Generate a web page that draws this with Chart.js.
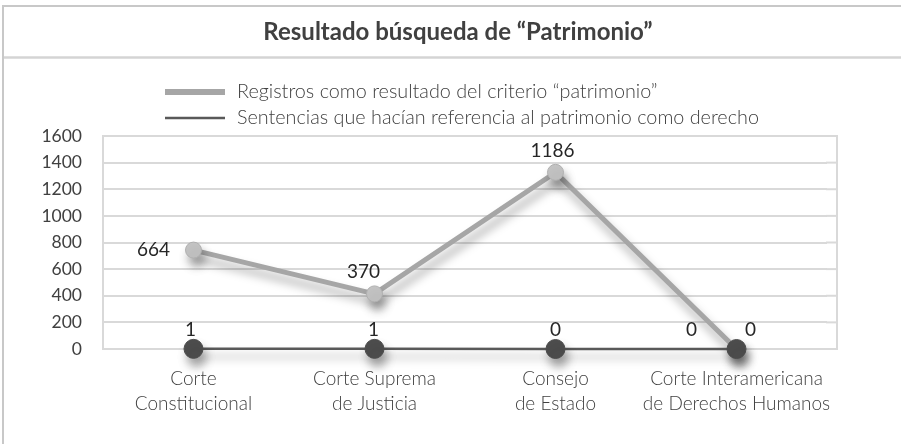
<!DOCTYPE html>
<html>
<head>
<meta charset="utf-8">
<script src="https://cdn.jsdelivr.net/npm/chart.js@4/dist/chart.umd.min.js"></script>
<style>
body{margin:0;background:#fff;}
#wrap{width:901px;height:444px;}
</style>
</head>
<body>
<div id="wrap"><canvas id="chart" width="901" height="444"></canvas></div>
<script>

/* ================= DATA ================= */

let titleText = "Resultado búsqueda de “Patrimonio”";
let categories = [
["Corte","Constitucional"],
["Corte Suprema","de Justicia"],
["Consejo","de Estado"],
["Corte Interamericana","de Derechos Humanos"]
];
let seriesNames = [
"Registros como resultado del criterio “patrimonio”",
"Sentencias que hacían referencia al patrimonio como derecho"
];
let registros = [664,370,1186,0];
let sentencias = [1,1,0,0];
let yTicks = [0,200,400,600,800,1000,1200,1400,1600];

/* label offsets from each point (dx, dy) */
let registrosLabelPos = [[-40,0],[-11,-22],[-3,-21],[-45,-19]];
let sentenciasLabelPos = [[-3,-19],[-1,-19],[0,-19],[14,-19]];

let textColor = "#404040";
let fontName = "Lato, 'Open Sans', sans-serif";
let boxExtra = 10; // plot box reaches a bit past the last category

/* ================= PLUGINS ================= */

let framePlugin = {
id:"frame",
beforeDraw(chart){
let ctx = chart.ctx;
ctx.save();
ctx.fillStyle = "#fff";
ctx.fillRect(0,0,chart.width,chart.height);

// outer frame
ctx.strokeStyle = "#c8c8c8";
ctx.lineWidth = 2;
ctx.beginPath();
ctx.moveTo(3,444);
ctx.lineTo(3,6);
ctx.lineTo(901,6);
ctx.stroke();

// separator under title
ctx.strokeStyle = "#d4d4d4";
ctx.lineWidth = 2.5;
ctx.beginPath();
ctx.moveTo(4,57.5);
ctx.lineTo(901,57.5);
ctx.stroke();

// title
ctx.fillStyle = textColor;
ctx.font = "bold 24px " + fontName;
ctx.textAlign = "center";
ctx.textBaseline = "middle";
ctx.fillText(titleText,458,32);

// legend
ctx.font = "300 19.8px " + fontName;
ctx.textAlign = "left";
chart.data.datasets.forEach((ds,i)=>{
let y = 92 + i*26;
ctx.strokeStyle = ds.borderColor;
ctx.lineWidth = i === 0 ? 6 : 2.5;
ctx.beginPath();
ctx.moveTo(165,y);
ctx.lineTo(225,y);
ctx.stroke();
ctx.fillStyle = textColor;
ctx.fillText(ds.label,237,y);
});
ctx.restore();
},
beforeDatasetsDraw(chart){
let ctx = chart.ctx;
let a = chart.chartArea;
let yScale = chart.scales.y;
ctx.save();
ctx.strokeStyle = "#d9d9d9";
ctx.lineWidth = 2;
// gridlines continue to the box edge
yScale.ticks.forEach(t=>{
let y = yScale.getPixelForValue(t.value);
ctx.beginPath();
ctx.moveTo(a.right-1,y);
ctx.lineTo(a.right+boxExtra,y);
ctx.stroke();
});
ctx.strokeRect(a.left,a.top,a.right+boxExtra-a.left,a.bottom-a.top);
ctx.restore();
}
};

let shadowPlugin = {
id:"shadow",
beforeDatasetDraw(chart){
let ctx = chart.ctx;
ctx.save();
ctx.shadowColor = "rgba(0,0,0,0.35)";
ctx.shadowBlur = 10;
ctx.shadowOffsetX = 3;
ctx.shadowOffsetY = 8;
},
afterDatasetDraw(chart){
chart.ctx.restore();
}
};

let labelPlugin = {
id:"valueLabels",
afterDatasetsDraw(chart){
let ctx = chart.ctx;
ctx.save();
ctx.font = "19px " + fontName;
ctx.fillStyle = "#262626";
ctx.textAlign = "center";
ctx.textBaseline = "middle";
chart.data.datasets.forEach((ds,i)=>{
let meta = chart.getDatasetMeta(i);
meta.data.forEach((pt,j)=>{
let off = ds.labelPos[j];
ctx.fillText(String(ds.data[j]),pt.x+off[0],pt.y+off[1]);
});
});
ctx.restore();
}
};

/* ================= CHART ================= */

let ctx = document.getElementById("chart");

new Chart(ctx,{
type:"line",
data:{
labels:categories,
datasets:[
{
label:seriesNames[0],
data:registros,
yAxisID:"y2",
borderColor:"#a6a6a6",
borderWidth:5,
pointRadius:8,
pointBackgroundColor:"#c4c4c4",
pointBorderColor:"#b0b0b0",
pointBorderWidth:1,
labelPos:registrosLabelPos,
clip:false,
order:1
},
{
label:seriesNames[1],
data:sentencias,
yAxisID:"y",
borderColor:"#595959",
borderWidth:2.5,
pointRadius:9.5,
pointBackgroundColor:"#4d4d4d",
pointBorderColor:"#4d4d4d",
pointBorderWidth:1,
labelPos:sentenciasLabelPos,
clip:false,
order:0
}
]
},
options:{
responsive:false,
animation:false,
layout:{
padding:{top:136,right:74,left:0,bottom:0}
},
plugins:{
legend:{display:false},
title:{display:false},
tooltip:{enabled:false}
},
scales:{
x:{
offset:true,
grid:{display:false,drawTicks:false},
border:{display:false},
ticks:{
color:textColor,
padding:18,
autoSkip:false,
maxRotation:0,
minRotation:0,
font:{family:fontName,size:19,weight:"300",lineHeight:1.28}
},
afterFit(scale){ scale.height = 95; }
},
y:{
min:0,
max:1600,
afterBuildTicks(scale){ scale.ticks = yTicks.map(v=>({value:v})); },
grid:{color:"#d9d9d9",lineWidth:2,drawTicks:false},
border:{display:false},
ticks:{
color:textColor,
padding:21,
font:{family:fontName,size:17.5},
callback:v=>String(v)
},
afterFit(scale){ scale.width = 103; }
},
y2:{
display:false,
min:0,
max:1430
}
}
},
plugins:[framePlugin,shadowPlugin,labelPlugin]
});

</script>
</body>
</html>
